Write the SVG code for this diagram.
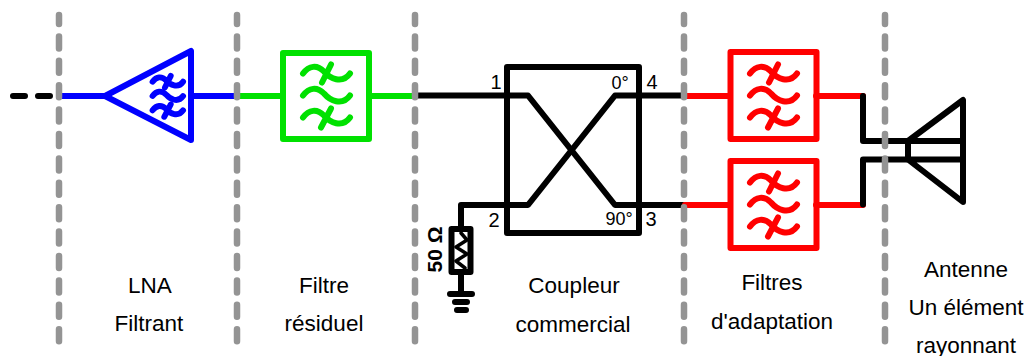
<svg xmlns="http://www.w3.org/2000/svg" width="1028" height="356" viewBox="0 0 1028 356">
<style>
text{font-family:"Liberation Sans",Arial,sans-serif;font-size:22.5px;fill:#000;text-anchor:middle}
.s{fill:none;stroke-width:6;stroke-linecap:round;stroke-linejoin:round}
.k{stroke:#000}.b{stroke:#0000ff}.g{stroke:#00e100}.r{stroke:#ff0000}
.d{fill:none;stroke:#949494;stroke-width:6.5;stroke-linecap:round;stroke-dasharray:12 12.4;stroke-dashoffset:3}
.w{fill:none;stroke-linecap:round}
</style>
<defs>
<g id="waves" class="w">
<path d="M-23,-22 C-17,-30 -9,-31 -2,-24 C4,-17 16,-11 24,-22 M5,-31 L-4,-13"/>
<path d="M-23,0 C-17,-8 -9,-9 -2,-2 C4,5 16,11 24,0"/>
<path d="M-23,22 C-17,14 -9,13 -2,20 C4,27 16,33 24,22 M5,13 L-5,32"/>
</g>
</defs>
<g id="connectors">
<path class="s k" d="M13,96 H25 M38,96 H50"/>
<path class="s b" d="M59,96 H105 M194,96 H237"/>
<path class="s g" d="M237,96 H283 M369,96 H413"/>
<path class="s k" d="M416,95.500 H528 L615,205 H683"/>
<path class="s k" d="M683,95.500 H615 L528,205 H461 V227"/>
<path class="s r" d="M685,96 H730 M816,96 H863 M685,205 H730 M816,205 H863"/>
<path class="s k" d="M863,96 V141 H908 M863,204.500 V159.500 H908"/>
</g>
<g id="lna"><path class="s b" d="M105,96 L191,51 V140 Z"/>
<use href="#waves" transform="translate(167.500,96) scale(.65)" style="stroke:#0000ff;stroke-width:9"/></g>
<g id="filtre-residuel"><rect class="s g" x="283" y="53" width="86" height="86"/>
<use href="#waves" style="stroke:#00e100;stroke-width:6" transform="translate(326,95.500)"/></g>
<g id="coupleur"><rect class="s k" x="507" y="67" width="132" height="166"/>
<text x="496" y="89" style="font-size:20px">1</text><text x="494" y="227" style="font-size:20px">2</text>
<text x="651" y="226" style="font-size:20px">3</text><text x="652" y="89" style="font-size:20px">4</text>
<text x="620" y="89" style="font-size:18px">0°</text><text x="619" y="225" style="font-size:18px">90°</text></g>
<g id="charge"><rect class="s k" x="451.500" y="229" width="19" height="43"/>
<path d="M461,233 L467,240 L456,247 L467,254 L456,261 L465,268" fill="none" stroke="#000" stroke-width="3.500" stroke-linecap="round" stroke-linejoin="round"/>
<path class="s k" d="M461,272 V294 M450,294 H472 M455,302 H467 M457,310 H466"/>
<text transform="translate(442,249.500) rotate(-90)" style="font-size:21px;font-weight:bold">50 Ω</text></g>
<g id="filtre-1"><rect class="s r" x="730.500" y="52" width="86" height="87"/>
<use href="#waves" style="stroke:#ff0000;stroke-width:6" transform="translate(773,95.500)"/></g>
<g id="filtre-2"><rect class="s r" x="730.500" y="161" width="86" height="87"/>
<use href="#waves" style="stroke:#ff0000;stroke-width:6" transform="translate(773,204.500)"/></g>
<g id="antenne"><path class="s k" d="M908,141 H963 M908,159.500 H963 M908,141 V159.500 M908,141 L963,100 V202 L908,159.500"/></g>
<g id="limites">
<path class="d" d="M59,15 V342"/><path class="d" d="M237,15 V342"/><path class="d" d="M415,15 V342"/><path class="d" d="M684,15 V342"/><path class="d" d="M885,15 V342"/>
</g>
<g id="labels">
<text x="150" y="293">LNA</text><text x="149" y="331">Filtrant</text>
<text x="324" y="293">Filtre</text><text x="324" y="331">résiduel</text>
<text x="574" y="293">Coupleur</text><text x="573" y="332">commercial</text>
<text x="772" y="290">Filtres</text><text x="772" y="329">d'adaptation</text>
<text x="966" y="277">Antenne</text><text x="966" y="315">Un élément</text><text x="966" y="353">rayonnant</text>
</g>
</svg>
